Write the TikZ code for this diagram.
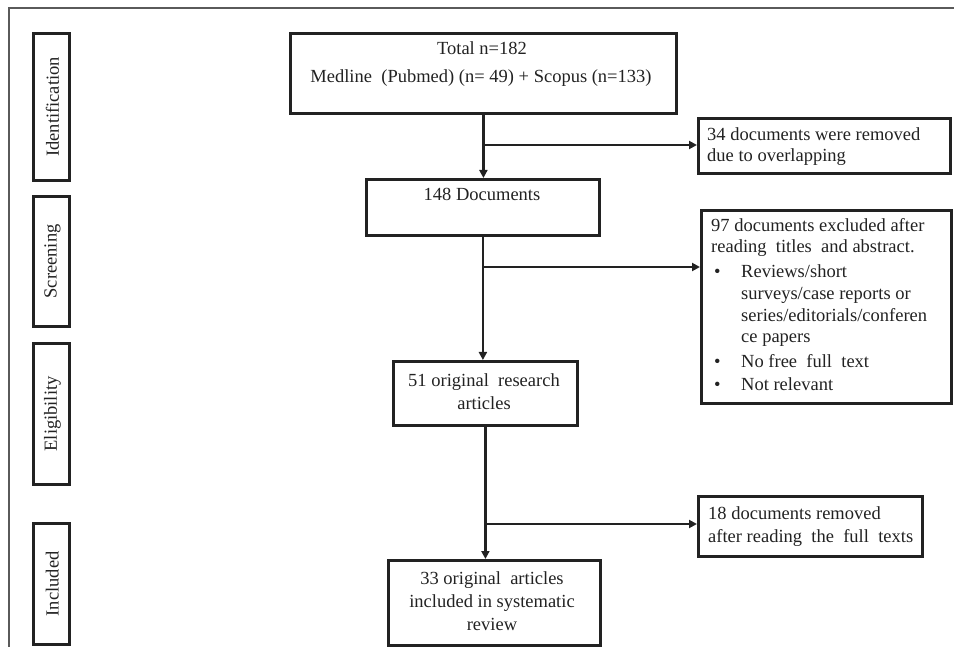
\documentclass[tikz,border=0pt]{standalone}
\usepackage{fontspec}
\setmainfont{Liberation Serif}
\usetikzlibrary{arrows.meta}
\definecolor{ink}{HTML}{222222}
\definecolor{framec}{HTML}{5A5A5A}
\begin{document}
\begin{tikzpicture}[x=1pt,y=-1pt,
  font=\fontsize{18.5}{22}\selectfont,
  box/.style={draw=ink, line width=2.8pt, rectangle, inner sep=0pt, anchor=north west},
  phase/.style={box, minimum width=36pt},
  txt/.style={text=ink, inner sep=0pt, anchor=base},
  ltxt/.style={txt, anchor=base west},
  conn/.style={draw=ink, line width=2.8pt},
  arr/.style={conn, -{Triangle[length=8pt,width=8pt]}},
  framel/.style={draw=framec, line width=1.3pt}]
\useasboundingbox (0,0) rectangle (954,647);
% outer frame
\coordinate (fr0) at (9,8);
\coordinate (fr1) at (954,8);
\coordinate (fr2) at (9,647);
\draw[framel] (fr1) -- (fr0) -- (fr2);
% phase boxes
\node[phase, minimum height=147pt] (idb) at (32,32) {};
\node[phase, minimum height=130pt] (scb) at (32,195) {};
\node[phase, minimum height=141pt] (elb) at (32,342) {};
\node[phase, minimum height=121pt] (inb) at (32,522) {};
\node[txt, rotate=90, anchor=center] (idt) at ([xshift=1pt]idb.center) {Identification};
\node[txt, rotate=90, anchor=center] (sct) at ([xshift=1pt]scb.center) {Screening};
\node[txt, rotate=90, anchor=center] (elt) at ([xshift=1pt]elb.center) {Eligibility};
\node[txt, rotate=90, anchor=center] (int) at ([xshift=1pt]inb.center) {Included};
% main boxes
\node[box, minimum width=386pt, minimum height=80pt] (tot) at (289,32) {};
\node[txt] (tot1) at (482,55) {Total n=182};
\node[txt] (tot2) at (481,83) {Medline\ \ (Pubmed) (n= 49) + Scopus (n=133)};
\node[box, minimum width=233pt, minimum height=56pt] (d148) at (365,178) {};
\node[txt] (d148t) at (482,201) {148 Documents};
\node[box, minimum width=184pt, minimum height=64pt] (a51) at (392,360) {};
\node[txt] (a51a) at (484,386) {51 original\ \ research};
\node[txt] (a51b) at (484,409) {articles};
\node[box, minimum width=212pt, minimum height=85pt] (r33) at (387,559) {};
\node[txt] (r33a) at (492,584) {33 original\ \ articles};
\node[txt] (r33b) at (492,607) {included in systematic};
\node[txt] (r33c) at (492,630) {review};
% side boxes
\node[box, minimum width=252pt, minimum height=55pt] (r34) at (697,117) {};
\node[ltxt] (r34a) at (707,141) {34 documents were removed};
\node[ltxt] (r34b) at (707,162) {due to overlapping};
\node[box, minimum width=250pt, minimum height=193pt] (r97) at (700,209) {};
\node[ltxt] (r97a) at (711,232) {97 documents excluded after};
\node[ltxt] (r97b) at (711,253) {reading\ \ titles\ \ and abstract.};
\node[ltxt] (bu1) at (714,278) {\textbullet};
\node[ltxt] (r97c) at (741,278) {Reviews/short};
\node[ltxt] (r97d) at (741,300) {surveys/case reports or};
\node[ltxt] (r97e) at (741,322) {series/editorials/conferen};
\node[ltxt] (r97f) at (741,343) {ce papers};
\node[ltxt] (bu2) at (714,367) {\textbullet};
\node[ltxt] (r97g) at (741,367) {No free\ \ full\ \ text};
\node[ltxt] (bu3) at (714,390) {\textbullet};
\node[ltxt] (r97h) at (741,390) {Not relevant};
\node[box, minimum width=224pt, minimum height=60pt] (r18) at (697,495) {};
\node[ltxt] (r18a) at (708,519) {18 documents removed};
\node[ltxt] (r18b) at (708,542) {after reading\ \ the\ \ full\ \ texts};
% connectors
\draw[arr] (tot.south) -- (tot.south |- d148.north);
\coordinate (j1) at (tot.south |- 0,145);
\draw[arr] (j1) -- (j1 -| r34.west);
\draw[arr] (d148.south) -- (d148.south |- a51.north);
\coordinate (j2) at (d148.south |- 0,267);
\draw[arr] (j2) -- (j2 -| r97.west);
\draw[arr] (a51.south) -- (a51.south |- r33.north);
\coordinate (j3) at (a51.south |- 0,524);
\draw[arr] (j3) -- (j3 -| r18.west);
\end{tikzpicture}
\end{document}
